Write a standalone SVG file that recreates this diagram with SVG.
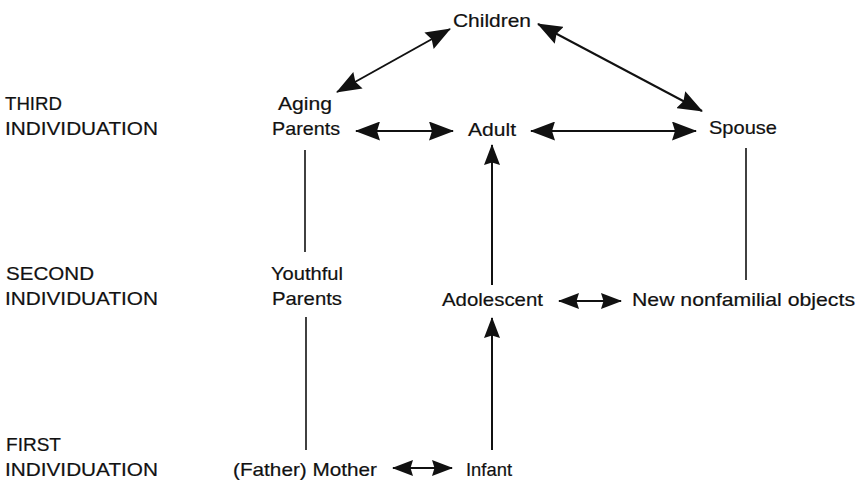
<svg xmlns="http://www.w3.org/2000/svg" width="860" height="481" viewBox="0 0 860 481">
<style>
text{font-family:"Liberation Sans",Arial,sans-serif;font-size:19px;fill:#111;stroke:#111;stroke-width:0.2}
.ln{stroke:#111;stroke-width:2;fill:none}
.pl{stroke:#111;stroke-width:1.6;fill:none}
</style>
<defs>
<marker id="ah" markerUnits="userSpaceOnUse" markerWidth="25" markerHeight="19" viewBox="0 0 25 19" refX="24" refY="9.5" orient="auto-start-reverse">
<path d="M0,0 L25,9.5 L0,19 L3,9.5 Z" fill="#111"/>
</marker>
<marker id="as" markerUnits="userSpaceOnUse" markerWidth="21" markerHeight="16" viewBox="0 0 21 16" refX="20" refY="8" orient="auto-start-reverse">
<path d="M0,0 L21,8 L0,16 L2.5,8 Z" fill="#111"/>
</marker>
</defs>
<rect width="860" height="481" fill="#fff"/>
<g id="labels">
<text x="5" y="110" textLength="57" lengthAdjust="spacingAndGlyphs">THIRD</text>
<text x="5" y="135" textLength="153" lengthAdjust="spacingAndGlyphs">INDIVIDUATION</text>
<text x="6" y="280" textLength="88" lengthAdjust="spacingAndGlyphs">SECOND</text>
<text x="5" y="305" textLength="153" lengthAdjust="spacingAndGlyphs">INDIVIDUATION</text>
<text x="6" y="451" textLength="55" lengthAdjust="spacingAndGlyphs">FIRST</text>
<text x="5" y="476" textLength="153" lengthAdjust="spacingAndGlyphs">INDIVIDUATION</text>
</g>
<g id="children"><text x="453" y="27" textLength="78" lengthAdjust="spacingAndGlyphs">Children</text></g>
<g id="aging-parents">
<text x="278" y="110" textLength="54" lengthAdjust="spacingAndGlyphs">Aging</text>
<text x="272" y="135" textLength="68" lengthAdjust="spacingAndGlyphs">Parents</text>
</g>
<g id="adult"><text x="468" y="136" textLength="48" lengthAdjust="spacingAndGlyphs">Adult</text></g>
<g id="spouse"><text x="709" y="134" textLength="68" lengthAdjust="spacingAndGlyphs">Spouse</text></g>
<g id="youthful-parents">
<text x="271" y="280" textLength="72" lengthAdjust="spacingAndGlyphs">Youthful</text>
<text x="272" y="305" textLength="70" lengthAdjust="spacingAndGlyphs">Parents</text>
</g>
<g id="adolescent"><text x="442" y="306" textLength="101" lengthAdjust="spacingAndGlyphs">Adolescent</text></g>
<g id="new-objects"><text x="632" y="306" textLength="223" lengthAdjust="spacingAndGlyphs">New nonfamilial objects</text></g>
<g id="mother"><text x="233" y="476" textLength="144" lengthAdjust="spacingAndGlyphs">(Father) Mother</text></g>
<g id="infant"><text x="466" y="476" textLength="46" lengthAdjust="spacingAndGlyphs">Infant</text></g>
<g id="connectors">
<line class="ln" x1="337" y1="92" x2="450" y2="29" marker-start="url(#ah)" marker-end="url(#ah)"/>
<line class="ln" x1="538" y1="24" x2="702" y2="111" marker-start="url(#ah)" marker-end="url(#ah)"/>
<line class="ln" x1="356" y1="131" x2="453" y2="131" marker-start="url(#ah)" marker-end="url(#ah)"/>
<line class="ln" x1="531" y1="131" x2="696" y2="131" marker-start="url(#ah)" marker-end="url(#ah)"/>
<line class="ln" x1="559" y1="301" x2="621" y2="301" marker-start="url(#as)" marker-end="url(#as)"/>
<line class="ln" x1="393" y1="468" x2="452" y2="468" marker-start="url(#as)" marker-end="url(#as)"/>
<line class="ln" x1="492" y1="285" x2="492" y2="145" marker-end="url(#as)"/>
<line class="ln" x1="492" y1="450" x2="492" y2="318" marker-end="url(#as)"/>
<line class="pl" x1="305" y1="150" x2="305" y2="252"/>
<line class="pl" x1="306" y1="317" x2="306" y2="450"/>
<line class="pl" x1="746" y1="148" x2="746" y2="280"/>
</g>
</svg>
